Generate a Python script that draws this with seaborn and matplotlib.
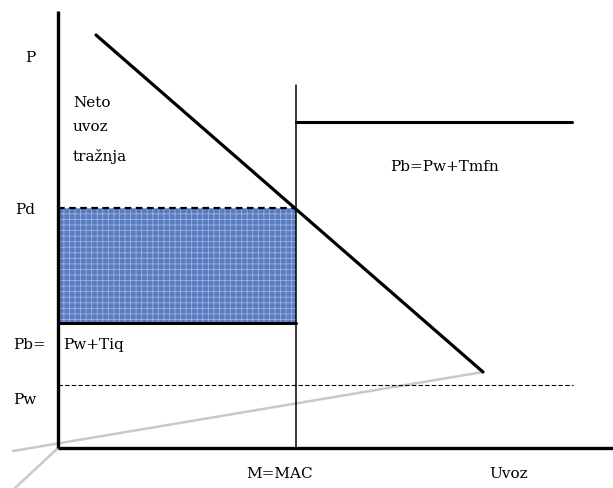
import matplotlib.pyplot as plt
import matplotlib.patches as mpatches
import numpy as np
import pandas as pd
import seaborn as sns

# price levels (diagram units, origin at the axes corner)
p_d = 240      # Pd
p_tiq = 125    # Pb = Pw + Tiq
p_w = 63       # Pw
p_mfn = 326    # Pb = Pw + Tmfn
q_mac = 238    # M = MAC

# net import demand line
demand_q = [38, 425]
demand_p = [413, 76]

# grey perspective lines
grey_q1 = [-45, 425]
grey_p1 = [-3, 76]
grey_q2 = [0, -43]
grey_p2 = [0, -40]

# axes extent
q_max = 555
p_max = 437

sns.set_theme(style="white")
plt.rcParams["font.family"] = ["DejaVu Serif"]
plt.rcParams["hatch.linewidth"] = 0.6

fig = plt.figure(figsize=(6.13, 4.89), dpi=100)
ax = fig.add_axes([0, 0, 1, 1])
ax.set_xlim(-58, 555)
ax.set_ylim(-40, 449)
ax.axis("off")

# grey lines behind
sns.lineplot(x=grey_q1, y=grey_p1, ax=ax, color="#c9c9c9", lw=1.8, sort=False)
sns.lineplot(x=grey_q2, y=grey_p2, ax=ax, color="#c9c9c9", lw=1.8, sort=False)

# textured quota rent rectangle
rect = mpatches.Rectangle((0, p_tiq), q_mac, p_d - p_tiq, facecolor="#5a7bbf",
                          edgecolor="#9ab3e0", lw=0, hatch="+++", zorder=1)
ax.add_patch(rect)

# axes
ax.plot([0, 0], [0, p_max], color="black", lw=2.4, zorder=4, solid_capstyle="butt")
ax.plot([0, q_max], [0, 0], color="black", lw=2.4, zorder=4, solid_capstyle="butt")

# Pd dashed, Tiq solid, Pw dashed
ax.plot([0, q_mac], [p_d, p_d], color="black", lw=1.6, ls=(0, (3, 2)), zorder=3)
ax.plot([0, q_mac], [p_tiq, p_tiq], color="black", lw=2.2, zorder=3)
ax.plot([0, 515], [p_w, p_w], color="black", lw=0.8, ls=(0, (4, 2)), zorder=3)

# M = MAC vertical and MFN horizontal
ax.plot([q_mac, q_mac], [0, 363], color="black", lw=1.1, zorder=3)
ax.plot([q_mac, 514], [p_mfn, p_mfn], color="black", lw=2.2, zorder=3)

# demand
sns.lineplot(x=demand_q, y=demand_p, ax=ax, color="black", lw=2.3, sort=False)

fs = 11
kw = dict(fontsize=fs, color="black", va="center")
ax.text(-28, 391, "P", ha="center", **kw)
ax.text(15, 346, "Neto", ha="left", **kw)
ax.text(15, 322, "uvoz", ha="left", **kw)
ax.text(15, 292, "tražnja", ha="left", **kw)
ax.text(-33, 239, "Pd", ha="center", **kw)
ax.text(-45, 104, "Pb=", ha="left", **kw)
ax.text(5, 104, "Pw+Tiq", ha="left", **kw)
ax.text(-33, 49, "Pw", ha="center", **kw)
ax.text(222, -25, "M=MAC", ha="center", **kw)
ax.text(451, -25, "Uvoz", ha="center", **kw)
ax.text(387, 282, "Pb=Pw+Tmfn", ha="center", **kw)

fig.savefig("out.png", dpi=100)
